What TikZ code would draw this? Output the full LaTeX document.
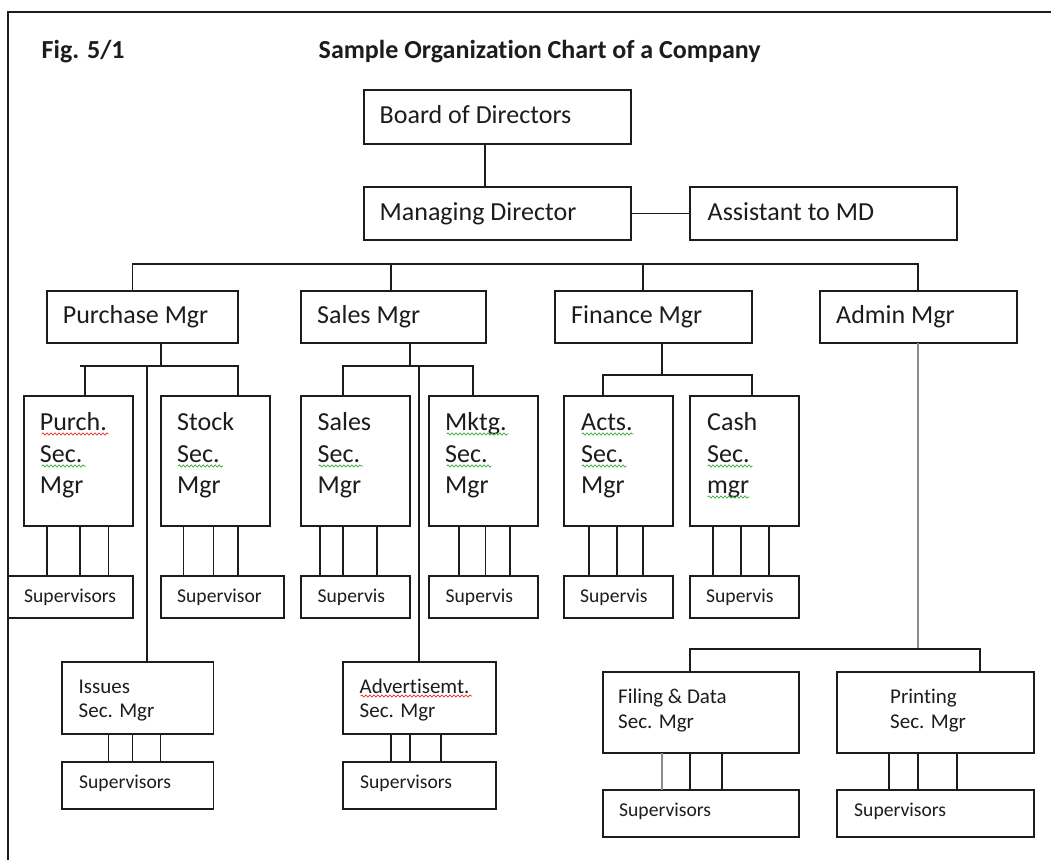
\documentclass[tikz,border=0pt]{standalone}
\usepackage{fontspec}
\setmainfont{Carlito}[Ligatures=NoCommon]
\usetikzlibrary{decorations.pathmorphing}
\definecolor{ink}{HTML}{1C1C1C}
\definecolor{spellred}{HTML}{E03030}
\definecolor{spellgreen}{HTML}{3AA63A}
\tikzset{
  box/.style={draw=ink, line width=1.5pt, inner sep=0pt, outer sep=0pt, fill=white},
  link/.style={draw=ink, line width=1.5pt},
  greylink/.style={draw=black!45, line width=2pt},
  big/.style={font=\fontsize{26}{30}\selectfont, anchor=base west, inner sep=0pt, text=ink},
  mid/.style={font=\fontsize{21}{24}\selectfont, anchor=base west, inner sep=0pt, text=ink},
  small/.style={font=\fontsize{19.6}{22}\selectfont, anchor=base west, inner sep=0pt, text=ink},
  head/.style={font=\fontsize{26}{30}\selectfont\bfseries, anchor=base west, inner sep=0pt, text=ink},
  squig/.style={line width=0.7pt, decorate, decoration={snake, amplitude=1.1pt, segment length=4pt}}
}
% box from top-left (x1,y1) to bottom-right (x2,y2)
\newcommand{\orgbox}[5]{\node[box, minimum width={#4-#2}, minimum height={#5-#3}] (#1) at ({(#2+#4)/2},{(#3+#5)/2}) {};}
% three links from a section box down to its supervisors box
\newcommand{\threelinks}[5]{\foreach \xx in {#3,#4,#5} {\draw[link] (#1.south -| \xx,0) -- (#2.north -| \xx,0);}}
\newcommand{\wavy}[4]{\draw[squig, #1] (#2,#4) -- (#3,#4);}
\begin{document}
\begin{tikzpicture}[x=1pt, y=-1pt]
\useasboundingbox (0,0) rectangle (1051,860);

% page frame
\draw[draw=ink, line width=1.6pt] (8,860) -- (8,12) -- (1051,12);

% headings
\node[head] (fig) at (41.5,58) {Fig. 5/1};
\node[head] (title) at (318.5,58) {Sample Organization Chart of a Company};

% top levels
\orgbox{bod}{364}{90}{631}{144}
\orgbox{md}{364}{187}{631}{240}
\orgbox{asst}{690}{187}{957}{240}
\node[big] (bod-t) at (379.5,123) {Board of Directors};
\node[big] (md-t) at (379.5,220) {Managing Director};
\node[big] (asst-t) at (707.5,220) {Assistant to MD};

% department managers
\orgbox{pm}{47}{291}{238}{343}
\orgbox{sm}{301}{291}{486}{343}
\orgbox{fm}{555}{291}{752}{343}
\orgbox{am}{820}{291}{1017}{343}
\node[big] (pm-t) at (62.7,323) {Purchase Mgr};
\node[big] (sm-t) at (317,323) {Sales Mgr};
\node[big] (fm-t) at (571,323) {Finance Mgr};
\node[big] (am-t) at (836,323) {Admin Mgr};

% section managers
\orgbox{psm}{24}{396}{133}{526}
\orgbox{ssm}{161}{396}{270}{526}
\orgbox{slsm}{301}{396}{410}{526}
\orgbox{mksm}{429}{396}{538}{526}
\orgbox{acsm}{564}{396}{673}{526}
\orgbox{cssm}{690}{396}{799}{526}

\node[big] (psm-a) at (39.7,430) {Purch.};
\node[big] (psm-b) at (39.7,462) {Sec.};
\node[big] (psm-c) at (39.7,493) {Mgr};
\node[big] (ssm-a) at (177,430) {Stock};
\node[big] (ssm-b) at (177,462) {Sec.};
\node[big] (ssm-c) at (177,493) {Mgr};
\node[big] (slsm-a) at (317.5,430) {Sales};
\node[big] (slsm-b) at (317.5,462) {Sec.};
\node[big] (slsm-c) at (317.5,493) {Mgr};
\node[big] (mksm-a) at (445,430) {Mktg.};
\node[big] (mksm-b) at (445,462) {Sec.};
\node[big] (mksm-c) at (445,493) {Mgr};
\node[big] (acsm-a) at (581,430) {Acts.};
\node[big] (acsm-b) at (581,462) {Sec.};
\node[big] (acsm-c) at (581,493) {Mgr};
\node[big] (cssm-a) at (707,430) {Cash};
\node[big] (cssm-b) at (707,462) {Sec.};
\node[big] (cssm-c) at (707,493) {mgr};

% supervisors of the section managers
\orgbox{psv}{8}{576}{133}{618}
\orgbox{ssv}{161}{576}{284}{618}
\orgbox{slsv}{301}{576}{410}{618}
\orgbox{mksv}{429}{576}{538}{618}
\orgbox{acsv}{564}{576}{673}{618}
\orgbox{cssv}{690}{576}{799}{618}
\node[small] (psv-t) at (24,602) {Supervisors};
\node[small] (ssv-t) at (177,602) {Supervisor};
\node[small] (slsv-t) at (317.5,602) {Supervis};
\node[small] (mksv-t) at (445.5,602) {Supervis};
\node[small] (acsv-t) at (580,602) {Supervis};
\node[small] (cssv-t) at (706,602) {Supervis};

% lower sections
\orgbox{iss}{62}{662}{213.5}{734}
\orgbox{issv}{62}{762}{213.5}{809}
\orgbox{adv}{343}{662}{496}{734}
\orgbox{adsv}{343}{762}{496}{809}
\orgbox{fil}{603}{672}{799}{753}
\orgbox{filsv}{603}{790}{799}{837}
\orgbox{prt}{837}{672}{1034}{753}
\orgbox{prtsv}{837}{790}{1034}{837}
\node[mid] (iss-a) at (78.5,693) {Issues};
\node[mid] (iss-b) at (78.5,717) {Sec. Mgr};
\node[small] (issv-t) at (79,788) {Supervisors};
\node[mid] (adv-a) at (359.5,693) {Advertisemt.};
\node[mid] (adv-b) at (359.5,717) {Sec. Mgr};
\node[small] (adsv-t) at (360,788) {Supervisors};
\node[mid] (fil-a) at (618,703) {Filing \& Data};
\node[mid] (fil-b) at (618,728) {Sec. Mgr};
\node[small] (filsv-t) at (619,816) {Supervisors};
\node[mid] (prt-a) at (890,703) {Printing};
\node[mid] (prt-b) at (890,728) {Sec. Mgr};
\node[small] (prtsv-t) at (854,816) {Supervisors};

% spelling marks under words
\wavy{spellred}{41.7}{108.5}{434}
\wavy{spellgreen}{41.7}{86}{466}
\wavy{spellgreen}{178}{223}{466}
\wavy{spellgreen}{318.6}{363}{466}
\wavy{spellgreen}{446.7}{508.7}{434}
\wavy{spellgreen}{446.7}{491.4}{466}
\wavy{spellgreen}{581.7}{633.3}{434}
\wavy{spellgreen}{581.7}{626.7}{466}
\wavy{spellgreen}{707.7}{752.7}{466}
\wavy{spellgreen}{707.7}{749.3}{497}
\wavy{spellred}{360.6}{471.8}{696}

% board to managing director, assistant
\draw[link] (bod.south -| 485,0) -- (md.north -| 485,0);
\draw[link] (md.east) -- (md.east -| asst.west);

% department bus
\coordinate (busL) at (132.5,264);
\coordinate (busR) at (918,264);
\draw[link] (pm.north -| busL) -- (busL) -- (busR) -- (am.north -| busR);
\draw[link] (sm.north -| 391,0) -- (busL -| 391,0);
\draw[link] (fm.north -| 643,0) -- (busL -| 643,0);

% purchase branch
\coordinate (pbus) at (161,366);
\draw[link] (pm.south -| pbus) -- (pbus);
\draw[link] (psm.north -| 85,0) -- (85,366) -- (238,366) -- (ssm.north -| 238,0);
\draw[link] (80,366) -- (85,366);
\draw[link] (147,366) -- (iss.north -| 147,0);

% sales branch
\coordinate (sbus) at (410,366);
\draw[link] (sm.south -| sbus) -- (sbus);
\draw[link] (slsm.north -| 343,0) -- (343,366) -- (473,366) -- (mksm.north -| 473,0);
\draw[link] (419,366) -- (adv.north -| 419,0);

% finance branch
\coordinate (fbus) at (662,375);
\draw[link] (fm.south -| fbus) -- (fbus);
\draw[link] (acsm.north -| 603,0) -- (603,375) -- (752,375) -- (cssm.north -| 752,0);

% admin branch
\coordinate (abus) at (918,649);
\draw[greylink] (am.south -| abus) -- (abus);
\draw[link] (fil.north -| 690,0) -- (690,649) -- (980,649) -- (prt.north -| 980,0);

% links to supervisors
\threelinks{psm}{psv}{47}{80}{108.5}
\threelinks{ssm}{ssv}{183.5}{213.5}{238}
\threelinks{slsm}{slsv}{320}{343}{377}
\threelinks{mksm}{mksv}{459}{485.5}{510}
\threelinks{acsm}{acsv}{589}{617}{643}
\threelinks{cssm}{cssv}{713}{741}{769}
\threelinks{iss}{issv}{108.5}{132.5}{160.5}
\threelinks{adv}{adsv}{391}{410}{441}
\draw[greylink] (fil.south -| 662,0) -- (filsv.north -| 662,0);
\foreach \xx in {690,722} {\draw[link] (fil.south -| \xx,0) -- (filsv.north -| \xx,0);}
\threelinks{prt}{prtsv}{889}{918}{957}
\end{tikzpicture}
\end{document}
